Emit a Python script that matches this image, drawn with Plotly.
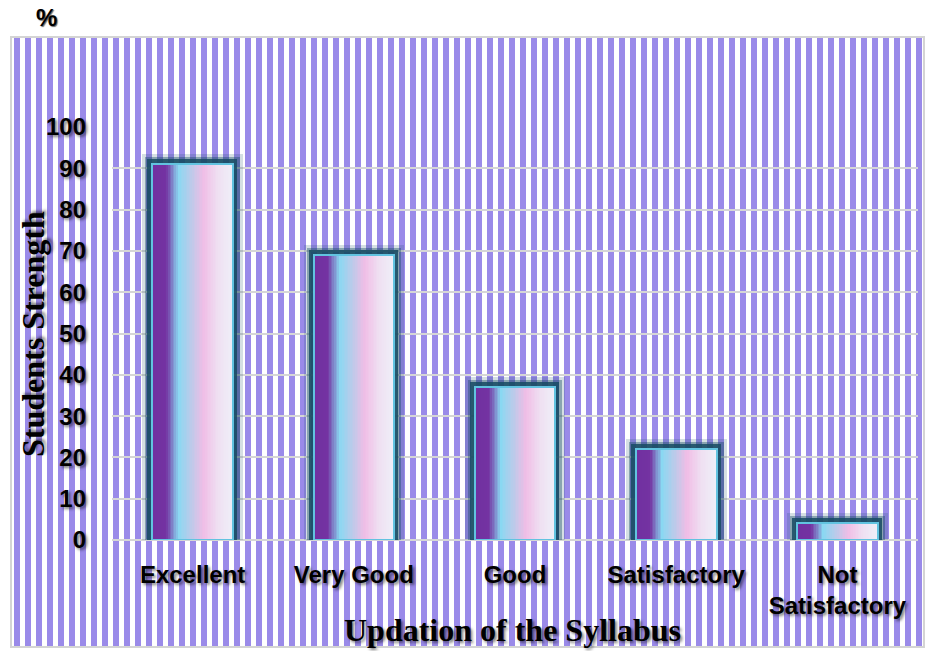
import base64
import plotly.graph_objects as go

# ---- data ----
categories = ["Excellent", "Very Good", "Good", "Satisfactory", "Not<br>Satisfactory"]
values = [91, 69, 37, 22, 4]
y_ticks = [0, 10, 20, 30, 40, 50, 60, 70, 80, 90, 100]
x_title = "Updation of the Syllabus"
y_title = "Students Strength"

W, H = 930, 651
ML, MR, MT, MB = 112, 12, 127, 111
PW, PH = W - ML - MR, H - MT - MB

def to_paper_x(px):
    return (px - ML) / PW

def to_paper_y(py):
    return (H - MB - py) / PH

# gradient helper (styling only)
stops = [(0.0, "#7030a0"), (0.18, "#7433a2"), (0.33, "#8ad8f2"), (0.48, "#b9cbea"),
         (0.64, "#f0bde6"), (0.82, "#efe0f2"), (1.0, "#efeff8")]

def hex2rgb(h):
    h = h.lstrip("#")
    return tuple(int(h[i:i + 2], 16) for i in (0, 2, 4))

def grad(t):
    for (p0, c0), (p1, c1) in zip(stops[:-1], stops[1:]):
        if p0 <= t <= p1:
            f = (t - p0) / (p1 - p0) if p1 > p0 else 0
            a, b = hex2rgb(c0), hex2rgb(c1)
            return "rgb(%d,%d,%d)" % tuple(round(a[k] + (b[k] - a[k]) * f) for k in range(3))
    return stops[-1][1]

fig = go.Figure()

BW = 0.5
# glow layers
for lw, op in [(20, 0.18), (14, 0.4), (9, 0.85)]:
    fig.add_trace(go.Bar(x=categories, y=values, width=BW,
                         marker=dict(color="rgba(23,75,99,%.2f)" % op,
                                     line=dict(color="rgba(23,75,99,%.2f)" % op, width=lw)),
                         hoverinfo="skip", showlegend=False))

N = 50
sw = BW / N
for i in range(N):
    t = (i + 0.5) / N
    fig.add_trace(go.Bar(x=categories, y=values, width=sw * 1.15, offset=-BW / 2 + i * sw,
                         marker=dict(color=grad(t), line=dict(width=0)),
                         hoverinfo="skip", showlegend=False))

# light blue outline
fig.add_trace(go.Bar(x=categories, y=values, width=BW,
                     marker=dict(color="rgba(0,0,0,0)", line=dict(color="#62c3e0", width=2)),
                     hoverinfo="skip", showlegend=False))

# striped background as inline svg image
bx0, by0, bx1, by1 = 10, 36, 925, 648
bw, bh = bx1 - bx0, by1 - by0
period = 11
rects = "".join(
    '<rect x="%d" y="0" width="6" height="%d" fill="#9a8ae9"/>' % (x, bh)
    for x in range(4, bw, period)
)
svg = ('<svg xmlns="http://www.w3.org/2000/svg" width="%d" height="%d">'
       '<rect width="%d" height="%d" fill="#ffffff"/>%s'
       '<rect x="1" y="1" width="%d" height="%d" fill="none" stroke="#d4d4d4" stroke-width="2"/></svg>'
       % (bw, bh, bw, bh, rects, bw - 2, bh - 2))
src = "data:image/svg+xml;base64," + base64.b64encode(svg.encode()).decode()

fig.add_layout_image(dict(source=src, xref="paper", yref="paper",
                          x=to_paper_x(bx0), y=to_paper_y(by0),
                          sizex=bw / PW, sizey=bh / PH,
                          xanchor="left", yanchor="top", sizing="stretch", layer="below"))

shadow = "2px 2px 3px rgba(0,0,0,0.5)"
tick_font = dict(family="Liberation Sans", size=24, color="black", weight="bold", shadow=shadow)
fig.update_layout(
    width=W, height=H,
    margin=dict(l=ML, r=MR, t=MT, b=MB),
    barmode="overlay",
    bargap=0,
    paper_bgcolor="white",
    plot_bgcolor="rgba(0,0,0,0)",
    showlegend=False,
    xaxis=dict(showgrid=False, showline=False, ticks="",
               tickfont=tick_font, ticklabelstandoff=18),
    yaxis=dict(range=[0, 100], tickvals=y_ticks, showgrid=True, gridcolor="#d6d6d6", gridwidth=2,
               zeroline=True, zerolinecolor="#d6d6d6", zerolinewidth=2, showline=False, ticks="",
               tickfont=tick_font, ticklabelstandoff=25),
    annotations=[
        dict(text="%", xref="paper", yref="paper", x=to_paper_x(46), y=to_paper_y(18),
             xanchor="center", yanchor="middle",
             showarrow=False, font=dict(family="Liberation Sans", size=24, color="black", weight="bold",
                                        shadow="1px 1px 1px rgba(0,0,0,0.6)")),
        dict(text=y_title, xref="paper", yref="paper", x=to_paper_x(33), y=to_paper_y(334),
             xanchor="center", yanchor="middle",
             textangle=-90, showarrow=False,
             font=dict(family="Liberation Serif", size=32, color="black", weight="bold", shadow=shadow)),
        dict(text=x_title, xref="paper", yref="paper", x=to_paper_x(512), y=to_paper_y(630),
             xanchor="center", yanchor="middle",
             showarrow=False,
             font=dict(family="Liberation Serif", size=32, color="black", weight="bold", shadow=shadow)),
    ],
)

fig.write_html("out.html", config={"displayModeBar": False},
               post_script="document.body.style.margin='0';document.body.style.overflow='hidden';")
